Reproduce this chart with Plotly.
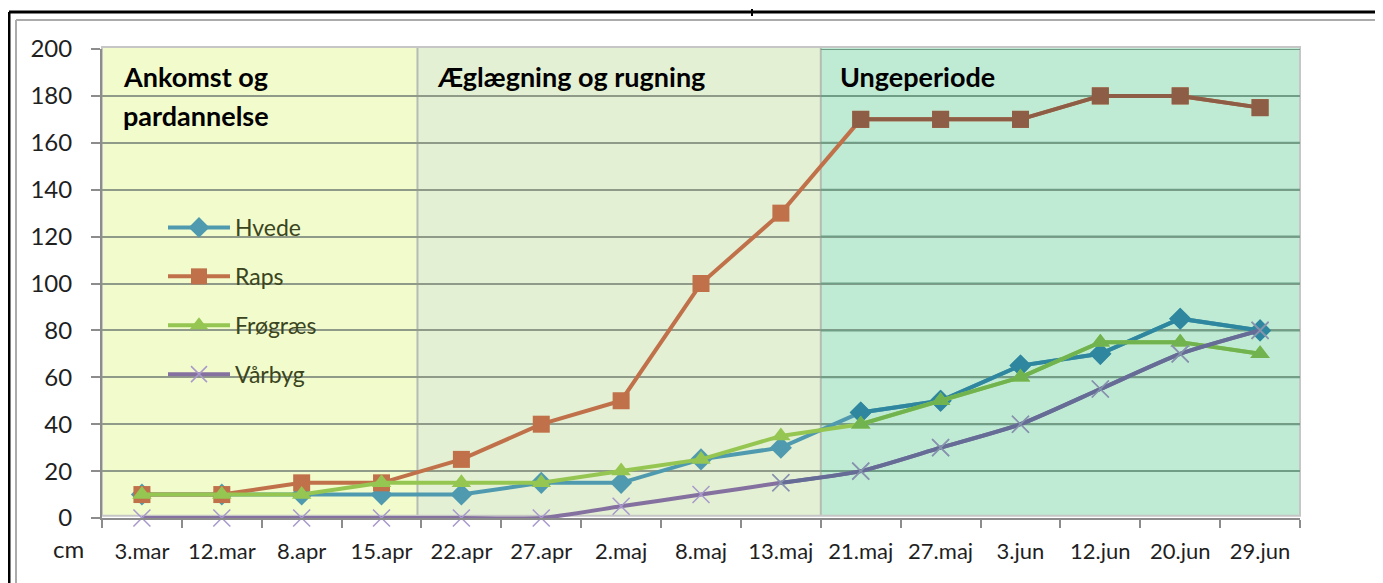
import plotly.graph_objects as go

dates = ["3.mar", "12.mar", "8.apr", "15.apr", "22.apr", "27.apr", "2.maj", "8.maj",
         "13.maj", "21.maj", "27.maj", "3.jun", "12.jun", "20.jun", "29.jun"]
hvede = [10, 10, 10, 10, 10, 15, 15, 25, 30, 45, 50, 65, 70, 85, 80]
raps = [10, 10, 15, 15, 25, 40, 50, 100, 130, 170, 170, 170, 180, 180, 175]
frograes = [10, 10, 10, 15, 15, 15, 20, 25, 35, 40, 50, 60, 75, 75, 70]
varbyg = [0, 0, 0, 0, 0, 0, 5, 10, 15, 20, 30, 40, 55, 70, 80]
y_ticks = [0, 20, 40, 60, 80, 100, 120, 140, 160, 180, 200]
period_labels = ["Ankomst og", "pardannelse", "Æglægning og rugning", "Ungeperiode"]

FONT = "Lato"
PAGE_W, PAGE_H = 1383, 583
OFF = 8                              # body margin of the html page
W, H = PAGE_W - OFF, PAGE_H - OFF
L, R, T, B = 102, 1300, 49, 518      # plot area in page pixels


def px(x):
    return (x - L) / (R - L)


def py(y):
    return (B - y) / (B - T)


series = [
    dict(name="Hvede", y=hvede, light="#4F9AAE", dark="#2F879F",
         marker=dict(symbol="diamond", size=17)),
    dict(name="Raps", y=raps, light="#C0714A", dark="#8E5D45",
         marker=dict(symbol="square", size=17)),
    dict(name="Frøgræs", y=frograes, light="#96C652", dark="#70B34F",
         marker=dict(symbol="triangle-up", size=17)),
]

fig = go.Figure()
split = 9  # first category of the third period
for s in series:
    fig.add_trace(go.Scatter(
        x=dates, y=s["y"], name=s["name"], mode="lines+markers",
        legendgroup=s["name"], cliponaxis=False,
        line=dict(color=s["light"], width=4),
        marker=dict(color=s["light"], **s["marker"])))
    fig.add_trace(go.Scatter(
        x=dates[split:], y=s["y"][split:], mode="lines+markers",
        legendgroup=s["name"], showlegend=False, cliponaxis=False, hoverinfo="skip",
        line=dict(color=s["dark"], width=4),
        marker=dict(color=s["dark"], **s["marker"])))

fig.add_trace(go.Scatter(
    x=dates, y=varbyg, name="Vårbyg", mode="lines+markers", legendgroup="Vårbyg",
    cliponaxis=False,
    line=dict(color="#84719F", width=4, shape="spline", smoothing=0.6),
    marker=dict(symbol="x-thin", size=17, color="#A898CC",
                line=dict(width=1.5, color="#A898CC"))))
fig.add_trace(go.Scatter(
    x=dates[split - 1:], y=varbyg[split - 1:], mode="lines+markers", legendgroup="Vårbyg",
    showlegend=False, cliponaxis=False, hoverinfo="skip",
    line=dict(color="#656C96", width=4, shape="spline", smoothing=0.6),
    marker=dict(symbol="x-thin", size=17, color="#8494AA",
                line=dict(width=1.5, color="#8494AA"))))

shapes = []
b1, b2 = 3.45, 8.5
for x0, x1, col in [(-0.5, b1, "#F1FBCC"), (b1, b2, "#E3F0D4"), (b2, 14.5, "#BFEAD4")]:
    shapes.append(dict(type="rect", xref="x", yref="paper", x0=x0, x1=x1, y0=0.005, y1=1.004,
                       fillcolor=col, line=dict(width=0), layer="below"))
for v in y_ticks[1:]:
    shapes.append(dict(type="line", xref="x", yref="y", x0=b2, x1=14.5, y0=v, y1=v,
                       line=dict(color="#6F9D86", width=2), layer="between"))
for b in (b1, b2):
    shapes.append(dict(type="line", xref="x", yref="paper", x0=b, x1=b, y0=0.005, y1=1.004,
                       line=dict(color="#B5BCB2", width=2), layer="between"))
shapes.append(dict(type="rect", xref="paper", yref="paper", x0=0, x1=1, y0=0.005, y1=1.004,
                   line=dict(color="#C6C6C6", width=2), layer="between"))
# outer frame
shapes += [
    dict(type="line", xref="paper", yref="paper", x0=px(9), x1=px(1378), y0=py(12), y1=py(12),
         line=dict(color="black", width=3)),
    dict(type="line", xref="paper", yref="paper", x0=px(9), x1=px(9), y0=py(12), y1=py(590),
         line=dict(color="black", width=3)),
    dict(type="line", xref="paper", yref="paper", x0=px(1377), x1=px(1377), y0=py(12), y1=py(590),
         line=dict(color="black", width=3)),
    dict(type="line", xref="paper", yref="paper", x0=px(16), x1=px(1375), y0=py(20), y1=py(20),
         line=dict(color="#ABABAB", width=2)),
    dict(type="line", xref="paper", yref="paper", x0=px(16), x1=px(16), y0=py(20), y1=py(590),
         line=dict(color="#ABABAB", width=2)),
    dict(type="line", xref="paper", yref="paper", x0=px(752), x1=px(752), y0=py(9), y1=py(16),
         line=dict(color="black", width=2)),
]

title_font = dict(family=FONT, size=27, color="black", weight="bold")
annotations = [
    dict(text=period_labels[0], x=px(121), y=py(77), xref="paper", yref="paper",
         xanchor="left", yanchor="middle", showarrow=False, font=title_font),
    dict(text=period_labels[1], x=px(121), y=py(115), xref="paper", yref="paper",
         xanchor="left", yanchor="middle", showarrow=False, font=title_font),
    dict(text=period_labels[2], x=px(435), y=py(77), xref="paper", yref="paper",
         xanchor="left", yanchor="middle", showarrow=False, font=title_font),
    dict(text=period_labels[3], x=px(838), y=py(77), xref="paper", yref="paper",
         xanchor="left", yanchor="middle", showarrow=False, font=title_font),
    dict(text="cm", x=px(68), y=py(548), xref="paper", yref="paper",
         xanchor="center", yanchor="middle", showarrow=False,
         font=dict(family=FONT, size=24, color="#1F1F1F")),
]

fig.update_layout(
    width=W, height=H,
    margin=dict(l=L - OFF, r=PAGE_W - R, t=T - OFF, b=PAGE_H - B),
    paper_bgcolor="white", plot_bgcolor="white",
    font=dict(family=FONT, color="#1F1F1F"),
    showlegend=True,
    legend=dict(x=px(163), y=py(206), xanchor="left", yanchor="top",
                bgcolor="rgba(0,0,0,0)", tracegroupgap=16, itemwidth=62,
                font=dict(family=FONT, size=23, color="#3A4520")),
    shapes=shapes, annotations=annotations,
    xaxis=dict(type="category", categoryorder="array", categoryarray=dates,
               range=[-0.5, 14.5], tickson="boundaries", ticks="outside", ticklen=8,
               tickcolor="#8C8C8C", tickwidth=2, showline=True, linecolor="#8C8C8C",
               linewidth=2, showgrid=False, ticklabelstandoff=13, tickangle=0,
               automargin=False,
               tickfont=dict(family=FONT, size=22, color="#1F1F1F")),
    yaxis=dict(range=[0, 200], tickvals=y_ticks, ticks="outside", ticklen=9,
               tickcolor="#8C8C8C", tickwidth=2, showline=True, linecolor="#8C8C8C",
               linewidth=2, showgrid=True, gridcolor="#8F9B88", gridwidth=2,
               zeroline=False, ticklabelstandoff=14, automargin=False,
               tickfont=dict(family=FONT, size=24, color="#1F1F1F")),
)

fig.write_html("out.html")
